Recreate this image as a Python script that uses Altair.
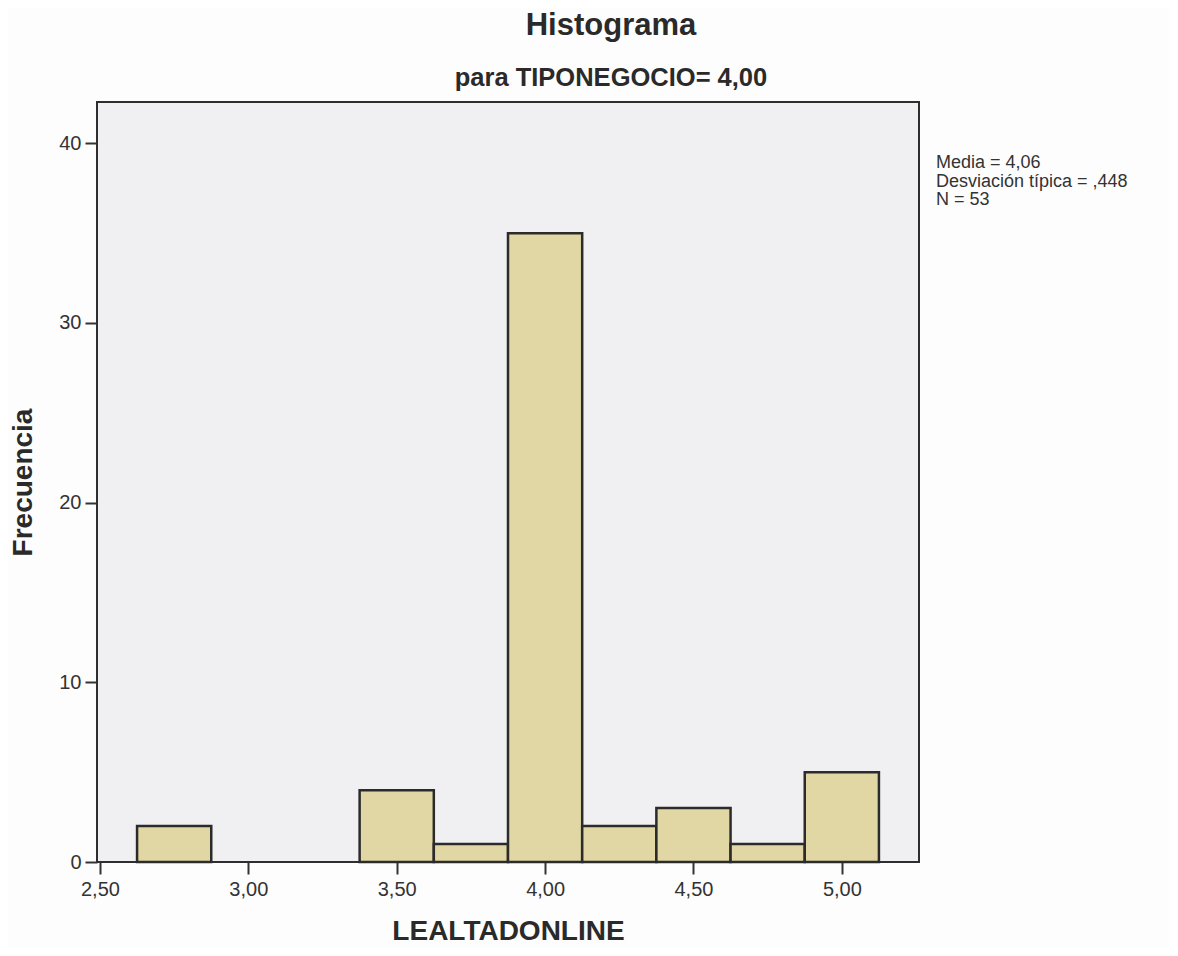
import altair as alt
import pandas as pd

# Histogram bins (LEALTADONLINE) and frequencies for TIPONEGOCIO = 4,00
bin_low = [2.625, 3.375, 3.625, 3.875, 4.125, 4.375, 4.625, 4.875]
bin_high = [2.875, 3.625, 3.875, 4.125, 4.375, 4.625, 4.875, 5.125]
counts = [2, 4, 1, 35, 2, 3, 1, 5]

x_ticks = [2.5, 3.0, 3.5, 4.0, 4.5, 5.0]
y_ticks = [0, 10, 20, 30, 40]

stats_lines = ["Media = 4,06", "Desviación típica = ,448", "N = 53"]
title_text = "Histograma"
subtitle_text = "para TIPONEGOCIO= 4,00"

df = pd.DataFrame({"lo": bin_low, "hi": bin_high, "n": counts, "zero": [0] * len(counts)})

FONT = "Liberation Sans"
W, H = 822, 760

xscale = alt.Scale(domain=[2.49, 5.26], nice=False, zero=False)
yscale = alt.Scale(domain=[0, 42.3], nice=False)

bars = alt.Chart(df).mark_rect(
    fill="#e1d7a4", stroke="#2b2b2b", strokeWidth=2.5
).encode(
    x=alt.X("lo:Q", scale=xscale,
            axis=alt.Axis(values=x_ticks, title="LEALTADONLINE",
                          labelExpr="replace(format(datum.value, '.2f'), '.', ',')",
                          domain=False, grid=False, tickSize=12, tickWidth=2,
                          tickColor="#333333", labelPadding=5, labelFontSize=20,
                          labelColor="#333333", labelFont=FONT,
                          titleFont=FONT, titleFontSize=28, titleFontWeight="bold",
                          titleColor="#2a2a2a", titleY=77, titleBaseline="alphabetic")),
    x2="hi:Q",
    y=alt.Y("n:Q", scale=yscale,
            axis=alt.Axis(values=y_ticks, title="Frecuencia", format="d",
                          domain=False, grid=False, tickSize=12, tickWidth=2,
                          tickColor="#333333", labelPadding=4, labelFontSize=20,
                          labelColor="#333333", labelFont=FONT,
                          titleFont=FONT, titleFontSize=28, titleFontWeight="bold",
                          titleColor="#2a2a2a", titleX=-74, titleY=380,
                          titleAngle=270, titleAlign="center", titleBaseline="middle")),
    y2="zero:Q",
)

one = alt.Data(values=[{}])

title = alt.Chart(one).mark_text(
    text=title_text, font=FONT, fontSize=31, fontWeight="bold",
    color="#2a2a2a", align="center", baseline="alphabetic"
).encode(x=alt.value(514), y=alt.value(-67))

subtitle = alt.Chart(one).mark_text(
    text=subtitle_text, font=FONT, fontSize=25.5, fontWeight="bold",
    color="#2a2a2a", align="center", baseline="alphabetic"
).encode(x=alt.value(514), y=alt.value(-16))

stats = alt.Chart(one).mark_text(
    text=stats_lines, font=FONT, fontSize=18, lineHeight=18.5,
    color="#333333", align="left", baseline="alphabetic"
).encode(x=alt.value(839), y=alt.value(66))

chart = alt.layer(bars, title, subtitle, stats).properties(
    width=W, height=H,
    autosize=alt.AutoSizeParams(type="none"),
    padding={"left": 89, "top": 94, "right": 250, "bottom": 86},
    background="#fdfdfd",
).configure_view(
    fill="#f0f0f3", stroke="#2e2e2e", strokeWidth=2
)

chart.save("out.html", embed_options={"renderer": "svg", "actions": False})
